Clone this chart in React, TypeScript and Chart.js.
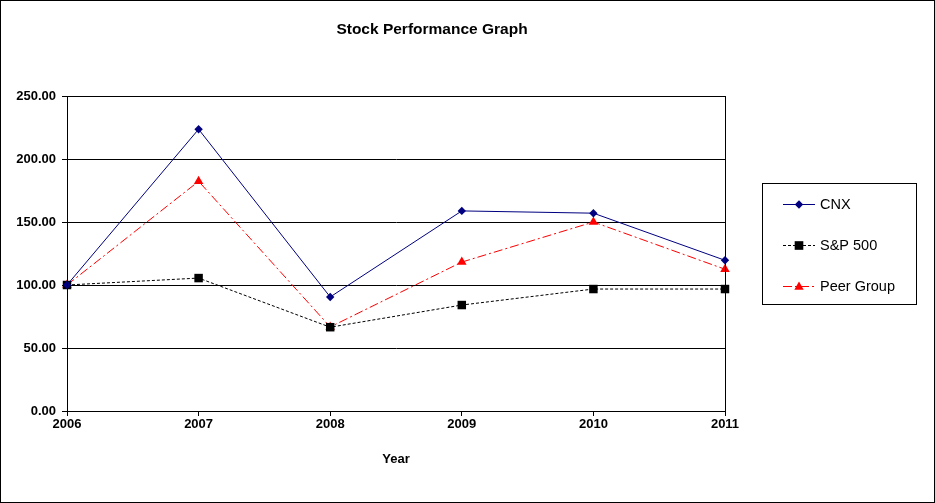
import React, { useEffect, useRef } from "react";
import { Chart, registerables } from "chart.js";

Chart.register(...registerables);

const years = ["2006", "2007", "2008", "2009", "2010", "2011"];
const cnx = [100, 223.6, 90.5, 158.8, 157.0, 119.6];
const sp500 = [100, 105.5, 66.5, 84.1, 96.8, 96.8];
const peer = [100, 182.3, 66.7, 118.2, 150.0, 112.5];
const seriesNames = ["CNX", "S&P 500", "Peer Group"];
const chartTitle = "Stock Performance Graph";
const xTitle = "Year";

const FONT = "'Liberation Sans', Arial, sans-serif";

const decorPlugin = {
  id: "decor",
  beforeDraw(chart: any) {
    const { ctx, width, height } = chart;
    ctx.save();
    ctx.fillStyle = "#ffffff";
    ctx.fillRect(0, 0, width, height);
    ctx.restore();
  },
  afterDatasetsDraw(chart: any) {
    const { ctx, chartArea, width, height } = chart;
    ctx.save();
    ctx.strokeStyle = "#000";
    ctx.lineWidth = 1;
    ctx.strokeRect(Math.round(chartArea.left) + 0.5, Math.round(chartArea.top) + 0.5,
      Math.round(chartArea.right - chartArea.left), Math.round(chartArea.bottom - chartArea.top));
    ctx.strokeRect(0.5, 0.5, width - 1, height - 1);
    ctx.fillStyle = "#000";
    ctx.font = `bold 15.5px ${FONT}`;
    ctx.textAlign = "center";
    ctx.textBaseline = "middle";
    ctx.fillText(chartTitle, 432, 30);
    const lx = chartArea.right + 37;
    const ly = 183;
    const lw = 154;
    const lh = 121;
    ctx.strokeRect(Math.round(lx) + 0.5, ly + 0.5, lw, lh);
    const items = chart.data.datasets;
    items.forEach((ds: any, i: number) => {
      const y = ly + 21 + i * 41 + 0.5;
      const x0 = lx + 21;
      const x1 = lx + 53;
      ctx.save();
      ctx.strokeStyle = ds.borderColor;
      ctx.lineWidth = 1;
      ctx.setLineDash(ds.borderDash || []);
      ctx.beginPath();
      ctx.moveTo(x0, y);
      ctx.lineTo(x1, y);
      ctx.stroke();
      ctx.restore();
      ctx.save();
      ctx.fillStyle = ds.pointBackgroundColor;
      const cx = (x0 + x1) / 2;
      const r = ds.pointRadius;
      ctx.beginPath();
      if (ds.pointStyle === "rectRot") {
        ctx.moveTo(cx, y - r); ctx.lineTo(cx + r, y); ctx.lineTo(cx, y + r); ctx.lineTo(cx - r, y); ctx.closePath();
      } else if (ds.pointStyle === "rect") {
        const s = r * 0.72;
        ctx.rect(cx - s, y - s, s * 2, s * 2);
      } else {
        ctx.moveTo(cx, y - r * 0.9); ctx.lineTo(cx + r * 0.85, y + r * 0.6); ctx.lineTo(cx - r * 0.85, y + r * 0.6); ctx.closePath();
      }
      ctx.fill();
      ctx.restore();
      ctx.fillStyle = "#000";
      ctx.font = `14.5px ${FONT}`;
      ctx.textAlign = "left";
      ctx.textBaseline = "middle";
      ctx.fillText(ds.label, x1 + 5, y);
    });
    ctx.restore();
  },
};

export default function App() {
  const ref = useRef<HTMLCanvasElement | null>(null);
  useEffect(() => {
    if (!ref.current) return;
    const chart = new Chart(ref.current, {
      type: "line",
      data: {
        labels: years,
        datasets: [
          {
            label: seriesNames[0],
            data: cnx,
            borderColor: "#000080",
            backgroundColor: "#000080",
            pointBackgroundColor: "#000080",
            pointBorderColor: "#000080",
            borderWidth: 1,
            pointStyle: "rectRot",
            pointRadius: 4.2,
            pointBorderWidth: 0,
            tension: 0,
          } as any,
          {
            label: seriesNames[1],
            data: sp500,
            borderColor: "#000000",
            backgroundColor: "#000000",
            pointBackgroundColor: "#000000",
            pointBorderColor: "#000000",
            borderWidth: 1,
            borderDash: [3, 2],
            pointStyle: "rect",
            pointRadius: 6,
            pointBorderWidth: 0,
            tension: 0,
          } as any,
          {
            label: seriesNames[2],
            data: peer,
            borderColor: "#FF0000",
            backgroundColor: "#FF0000",
            pointBackgroundColor: "#FF0000",
            pointBorderColor: "#FF0000",
            borderWidth: 1,
            borderDash: [9, 3, 2, 3],
            pointStyle: "triangle",
            pointRadius: 5.5,
            pointBorderWidth: 0,
            tension: 0,
          } as any,
        ],
      },
      options: {
        animation: false,
        responsive: false,
        devicePixelRatio: 1,
        layout: { padding: { left: 0, top: 96, right: 210, bottom: 0 } },
        plugins: {
          legend: { display: false },
          title: { display: false },
          tooltip: { enabled: false },
        },
        scales: {
          x: {
            type: "category",
            offset: false,
            grid: { display: true, drawOnChartArea: false, color: "#000", tickLength: 5 },
            border: { display: true, color: "#000", width: 1 },
            ticks: {
              color: "#000",
              font: { family: FONT, size: 13, weight: "bold" },
              padding: 1,
              maxRotation: 0,
              autoSkip: false,
            },
            title: {
              display: true,
              text: xTitle,
              color: "#000",
              font: { family: FONT, size: 13, weight: "bold" },
              padding: { top: 0, bottom: 36 },
            },
            afterFit(scale: any) {
              scale.height = 92;
            },
          },
          y: {
            min: 0,
            max: 250,
            ticks: {
              stepSize: 50,
              color: "#000",
              font: { family: FONT, size: 13, weight: "bold" },
              padding: 6,
              callback: (v: any) => Number(v).toFixed(2),
            },
            grid: { color: "#000", tickLength: 5, lineWidth: 1 },
            border: { display: true, color: "#000", width: 1 },
            afterFit(scale: any) {
              scale.width = 67;
            },
          },
        },
      } as any,
      plugins: [decorPlugin],
    });
    return () => chart.destroy();
  }, []);
  return (
    <div style={{ position: "fixed", left: 0, top: 0, width: 935, height: 503 }}>
      <canvas ref={ref} width={935} height={503} style={{ width: 935, height: 503, display: "block" }} />
    </div>
  );
}
